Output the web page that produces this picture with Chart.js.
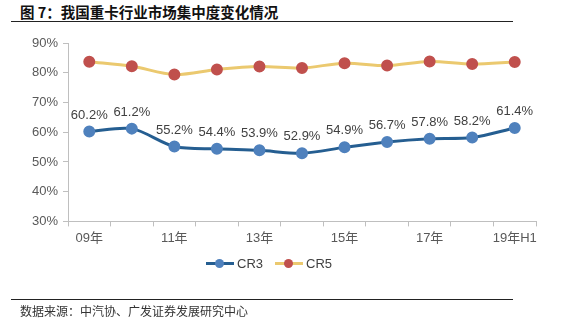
<!DOCTYPE html>
<html>
<head>
<meta charset="utf-8">
<script src="https://cdn.jsdelivr.net/npm/chart.js@4"></script>
<style>
  body { margin: 0; background: #fff; font-family: "Noto Sans CJK SC", sans-serif; }
  #wrap { position: relative; width: 565px; height: 332px; overflow: hidden; }
  #title { position: absolute; left: 20px; top: 1px; font-size: 14.5px; font-weight: bold; color: #111; white-space: nowrap; }
  .rule { position: absolute; left: 11px; width: 502px; height: 1px; background: #222; }
  #source { position: absolute; left: 20px; top: 302px; font-size: 12px; color: #333; white-space: nowrap; }
  #chartBox { position: absolute; left: 0; top: 0; width: 565px; height: 332px; }
  #legend { position: absolute; top: 256px; left: 206px; font-family: Arial, "Liberation Sans", sans-serif; font-size: 13px; color: #404040; display: flex; }
  .item { display: flex; align-items: center; margin-right: 12px; }
  .swatch { position: relative; width: 28px; height: 3px; margin-right: 3px; }
  .swatch span { position: absolute; left: 9px; top: -3.5px; width: 9px; height: 9px; border-radius: 50%; }
</style>
</head>
<body>
<div id="wrap">
  <div id="title">图 7：我国重卡行业市场集中度变化情况</div>
  <div class="rule" style="top:21px"></div>
  <div id="chartBox"><canvas id="chart"></canvas></div>
  <div id="legend">
    <div class="item"><div class="swatch" style="background:#255e91"><span style="background:#4f81bd"></span></div>CR3</div>
    <div class="item"><div class="swatch" style="background:#ebc96f"><span style="background:#c0504d"></span></div>CR5</div>
  </div>
  <div class="rule" style="top:299px"></div>
  <div id="source">数据来源：中汽协、广发证券发展研究中心</div>
</div>
<script>
const years = ['09年', '10年', '11年', '12年', '13年', '14年', '15年', '16年', '17年', '18年', '19年H1'];
const cr3 = [60.2, 61.2, 55.2, 54.4, 53.9, 52.9, 54.9, 56.7, 57.8, 58.2, 61.4];
const cr5 = [83.7, 82.2, 79.4, 81.1, 82.1, 81.6, 83.2, 82.4, 83.8, 82.9, 83.6];

// value labels above the CR3 points
const valueLabels = {
  id: 'valueLabels',
  afterDatasetsDraw(chart) {
    const ctx = chart.ctx;
    const meta = chart.getDatasetMeta(0);
    ctx.save();
    ctx.font = '13px Arial, "Liberation Sans", sans-serif';
    ctx.fillStyle = '#404040';
    ctx.textAlign = 'center';
    ctx.textBaseline = 'bottom';
    meta.data.forEach((pt, i) => {
      ctx.fillText(cr3[i].toFixed(1) + '%', pt.x, pt.y - 10);
    });
    ctx.restore();
  }
};

new Chart(document.getElementById('chart'), {
  type: 'line',
  data: {
    labels: years,
    datasets: [
      {
        label: 'CR3',
        data: cr3,
        borderColor: '#255e91',
        backgroundColor: '#4f81bd',
        pointBackgroundColor: '#4f81bd',
        pointBorderColor: '#4f81bd',
        borderWidth: 3,
        pointRadius: 4.5,
        tension: 0.3
      },
      {
        label: 'CR5',
        data: cr5,
        borderColor: '#ebc96f',
        backgroundColor: '#c0504d',
        pointBackgroundColor: '#c0504d',
        pointBorderColor: '#c0504d',
        borderWidth: 3,
        pointRadius: 4.5,
        tension: 0.3
      }
    ]
  },
  options: {
    responsive: true,
    maintainAspectRatio: false,
    animation: false,
    layout: { padding: { left: 0, right: 29, top: 43, bottom: 82 } },
    plugins: { legend: { display: false }, tooltip: { enabled: false } },
    scales: {
      x: {
        offset: true,
        border: { color: '#bfbfbf' },
        grid: { offset: true, drawOnChartArea: false, tickLength: 5, color: '#bfbfbf' },
        ticks: {
          autoSkip: false,
          maxRotation: 0,
          color: '#595959',
          font: { size: 13, family: 'Arial, "Liberation Sans", "Noto Sans CJK SC", sans-serif' },
          padding: 4,
          callback: (v, i) => i % 2 === 0 ? years[i] : ''
        }
      },
      y: {
        min: 30,
        max: 90,
        border: { color: '#bfbfbf' },
        grid: { drawOnChartArea: false, tickLength: 5, color: '#bfbfbf' },
        afterFit: scale => { scale.width = 68; },
        ticks: {
          stepSize: 10,
          color: '#595959',
          font: { size: 13, family: 'Arial, "Liberation Sans", sans-serif' },
          padding: 5,
          callback: v => v + '%'
        }
      }
    }
  },
  plugins: [valueLabels]
});
</script>
</body>
</html>
